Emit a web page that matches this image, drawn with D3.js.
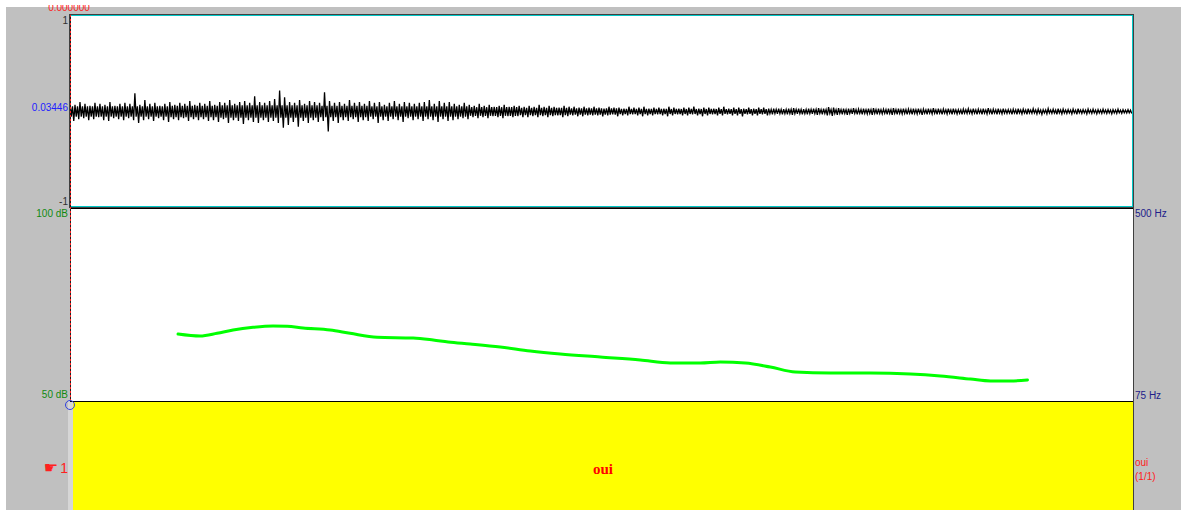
<!DOCTYPE html>
<html><head><meta charset="utf-8">
<script src="https://cdn.jsdelivr.net/npm/d3@7"></script>
<style>html,body{margin:0;padding:0;background:#fff;}svg{display:block;}</style>
</head><body>
<script>
// ---- data ----
const duration = 0.85; // seconds shown
const cursorTime = 0.0;
const cursorLabel = "0.000000";
const ampTicks = ["1", "-1"];
const ampCursorValue = 0.03446;
const dbRange = [50, 100];
const hzRange = [75, 500];
const segmentLabel = "oui";
const segmentIndex = "1";
const segmentCount = "(1/1)";

// waveform envelope, one pair per bin (positive peak / negative peak magnitude)
const waveHi = [
 .09,.07,.10,.08,.06,.09,.08,.07,.10,.06,.08,.09,
 .08,.19,
 .07,.12,.08,.09,.06,.08,.10,.07,.09,.08,.11,.07,
 .09,.08,.11,.07,.10,.09,.12,.08,.10,.11,.09,.16,
 .10,.09,.11,.13,
 .22,.15,
 .10,.09,.12,.08,.11,.10,.09,
 .20,
 .11,.09,.10,.08,.12,.09,.10,.08,.11,.09,.10,.07,.09,.11,.08,.10,.09,.08,
 .09,.10,.12,.08,.11,.09,.10,.08,.07,.09,
 .07,.06,.08,.06,.07,.05,.06,.07,.05,.06,.06,.05,.06,.05,.07,.05,.06,.05,.04,.06,.05,.05,.04,.05,
 .04,.05,.04,.03,.05,.04,.04,.03,.05,.04,.04,.05,.03,.04,.04,.03,.05,.04,.03,.04,.04,.05,.03,.04,.04,.03,.04,.05,.03,.04,.04,.03,.04,.03,.04,.04,.03,
 .03,.03,.025,.03,.035,.03,.025,.03,.03,.035,.03,.045,.04,.035,.03,.03,.035,.025,.03,.03,.035,.03,.025,.03,.035,.03,.03,.025,.03,.03,.025,.03,.035,.03,.025,.03,
 .03,.02,.025,.03,.03,.025,.03,.035,.025,.03,.03,.02,.025,.03,.025,.03,.03,.025,.02,.03,.025,.03,.025,.02,.025,.03,.02,.025,.025,.02,.025,.02,.02,.025,.02,.02
];
const waveLo = [
 .10,.08,.07,.09,.08,.06,.09,.10,.07,.08,.09,.07,
 .09,.12,
 .09,.08,.10,.07,.09,.11,.08,.09,.07,.10,.08,.09,
 .08,.10,.09,.11,.08,.12,.09,.10,.13,.09,.11,.12,
 .09,.11,.10,.12,
 .17,.14,
 .11,.16,.10,.12,.09,.11,.10,
 .21,
 .10,.12,.09,.10,.08,.11,.09,.10,.08,.12,.09,.10,.08,.09,.11,.07,.09,.08,
 .10,.08,.09,.11,.08,.10,.09,.08,.07,.08,
 .06,.07,.06,.07,.05,.06,.07,.05,.06,.05,.06,.06,.05,.06,.05,.06,.05,.04,.06,.05,.04,.05,.05,.04,
 .04,.04,.05,.04,.03,.05,.04,.04,.03,.04,.05,.04,.04,.03,.04,.05,.04,.03,.04,.04,.03,.04,.05,.04,.03,.04,.04,.03,.04,.04,.05,.03,.04,.04,.03,.04,.03,
 .025,.03,.03,.035,.025,.03,.03,.025,.035,.03,.04,.045,.035,.03,.035,.025,.03,.03,.025,.035,.03,.025,.03,.035,.03,.025,.03,.03,.025,.035,.03,.025,.03,.03,.025,.03,
 .025,.03,.02,.025,.03,.03,.025,.03,.03,.025,.02,.03,.03,.025,.03,.02,.025,.03,.025,.02,.03,.025,.02,.025,.03,.02,.025,.02,.025,.02,.02,.025,.02,.02,.015,.02
];
// dense inner band level, one value per 10 bins
const waveCore = [.055,.055,.06,.065,.065,.06,.055,.055,.045,.038,.032,.028,.026,.024,.022,.02,.02,.018,.017,.016,.015,.014];

// green contour (dB)
const curveTime = [0.0864,0.104,0.1176,0.1304,0.1464,0.1624,0.1736,0.1864,0.208,0.224,0.2456,0.2744,0.2904,0.3024,0.32,0.344,0.368,0.392,0.424,0.456,0.48,0.504,0.52,0.54,0.56,0.58,0.608,0.64,0.672,0.696,0.72,0.736,0.752,0.7656];
const curveDb   = [67.35,66.83,67.53,68.39,69.09,69.43,69.35,68.91,68.39,67.53,66.50,66.32,65.80,65.28,64.76,63.98,62.95,62.17,61.39,60.62,59.84,59.84,60.10,59.84,58.80,57.51,57.25,57.25,56.99,56.47,55.69,55.18,55.18,55.44];

// ---- drawing ----
const W = 1181, H = 510;
const svg = d3.select("body").append("svg").attr("width", W).attr("height", H);
const L = 70, R = 1133;
const waveTop = 15, waveBot = 208, pitchBot = 401;

svg.append("rect").attr("x", 6).attr("y", 7).attr("width", W - 6).attr("height", H - 7).attr("fill", "#c0c0c0");

const x = d3.scaleLinear().domain([0, duration]).range([L, R]);
const yAmp = d3.scaleLinear().domain([-1, 1]).range([waveBot - 1, waveTop + 1]);
const yDb = d3.scaleLinear().domain(dbRange).range([pitchBot, waveBot]);
const yHz = d3.scaleLog().domain(hzRange).range([pitchBot, waveBot]);

// panes
svg.append("rect").attr("x", L).attr("y", waveTop).attr("width", R - L).attr("height", waveBot - waveTop).attr("fill", "#fff");
svg.append("rect").attr("x", L).attr("y", waveBot).attr("width", R - L).attr("height", pitchBot - waveBot).attr("fill", "#fff");
svg.append("rect").attr("x", 68).attr("y", pitchBot).attr("width", 5).attr("height", H - pitchBot).attr("fill", "#d6d6d6");
svg.append("rect").attr("x", 73).attr("y", pitchBot).attr("width", R - 73).attr("height", H - pitchBot).attr("fill", "#ffff00");

// waveform
const n = Math.min(waveHi.length, waveLo.length);
const binDur = duration / n;
const pts = [];
for (let i = 0; i < n; i++) {
  const c = waveCore[Math.min(waveCore.length - 1, Math.floor(i / 10))];
  const t = i * binDur;
  pts.push([t, waveHi[i]]);
  pts.push([t + binDur / 4, -c]);
  pts.push([t + binDur / 2, c]);
  pts.push([t + 3 * binDur / 4, -waveLo[i]]);
}
svg.append("path").datum(pts)
  .attr("d", d3.line().x(d => x(d[0])).y(d => yAmp(d[1])))
  .attr("fill", "none").attr("stroke", "#000").attr("stroke-width", 1.3);

// green contour
svg.append("path").datum(curveTime.map((t, i) => [t, curveDb[i]]))
  .attr("d", d3.line().curve(d3.curveMonotoneX).x(d => x(d[0])).y(d => yDb(d[1])))
  .attr("fill", "none").attr("stroke", "#00ff00").attr("stroke-width", 3).attr("stroke-linejoin", "round").attr("stroke-linecap", "round");

// frames
svg.append("rect").attr("x", L - 0.5).attr("y", waveTop - 0.5).attr("width", R - L + 1).attr("height", waveBot - waveTop)
  .attr("fill", "none").attr("stroke", "#404040").attr("stroke-width", 1);
svg.append("rect").attr("x", L + 0.5).attr("y", waveTop + 0.5).attr("width", R - L - 1).attr("height", waveBot - waveTop - 2)
  .attr("fill", "none").attr("stroke", "#00c8c8").attr("stroke-width", 1);
svg.append("line").attr("x1", L).attr("x2", R + 1).attr("y1", waveBot + 0.5).attr("y2", waveBot + 0.5).attr("stroke", "#000");
svg.append("line").attr("x1", R + 0.5).attr("x2", R + 0.5).attr("y1", waveBot).attr("y2", H).attr("stroke", "#404040");
svg.append("line").attr("x1", L).attr("x2", R).attr("y1", pitchBot + 0.5).attr("y2", pitchBot + 0.5).attr("stroke", "#000");

// cursor
svg.append("line").attr("x1", x(cursorTime) + 0.5).attr("x2", x(cursorTime) + 0.5).attr("y1", waveTop).attr("y2", pitchBot)
  .attr("stroke", "#202020").attr("stroke-width", 1);
svg.append("line").attr("x1", x(cursorTime) + 0.5).attr("x2", x(cursorTime) + 0.5).attr("y1", waveTop).attr("y2", pitchBot)
  .attr("stroke", "#ff2020").attr("stroke-width", 1).attr("stroke-dasharray", "2,2");
svg.append("circle").attr("cx", x(cursorTime)).attr("cy", pitchBot + 4).attr("r", 4.5)
  .attr("fill", "none").attr("stroke", "#3040e0").attr("stroke-width", 1);

// text
const font = "Liberation Sans, Arial, sans-serif";
function txt(s, xx, yy, color, anchor, size, fam, weight) {
  return svg.append("text").attr("x", xx).attr("y", yy).attr("fill", color)
    .attr("text-anchor", anchor || "start").attr("font-size", size || 10)
    .attr("font-family", fam || font).attr("font-weight", weight || "normal").text(s);
}
txt(cursorLabel, x(cursorTime) - 1, 11, "#ff2020", "middle");
svg.append("rect").attr("x", 0).attr("y", 0).attr("width", W).attr("height", 5).attr("fill", "#fff");

txt(ampTicks[0], 68, yAmp(1) + 8, "#303030", "end");
txt(ampTicks[1], 68, yAmp(-1) - 2, "#303030", "end");
txt(String(ampCursorValue), 68, yAmp(ampCursorValue) + 3, "#2020ff", "end");
txt(dbRange[1] + " dB", 68, yDb(dbRange[1]) + 9, "#108a10", "end");
txt(dbRange[0] + " dB", 68, yDb(dbRange[0]) - 3, "#108a10", "end");
txt(hzRange[1] + " Hz", R + 2, yHz(hzRange[1]) + 9, "#20208a", "start");
txt(hzRange[0] + " Hz", R + 2, yHz(hzRange[0]) - 2, "#20208a", "start");

txt("\u261B", 58, 473, "#ff2020", "end", 16, "DejaVu Sans, sans-serif");
txt(segmentIndex, 68, 473, "#ff2020", "end", 14, font);
txt(segmentLabel, (73 + R) / 2, 474, "#ff0000", "middle", 15, "Liberation Serif, Times New Roman, serif", "bold");
txt(segmentLabel, R + 2, 466, "#ff2020", "start");
txt(segmentCount, R + 2, 480, "#ff2020", "start");
</script>
</body></html>
